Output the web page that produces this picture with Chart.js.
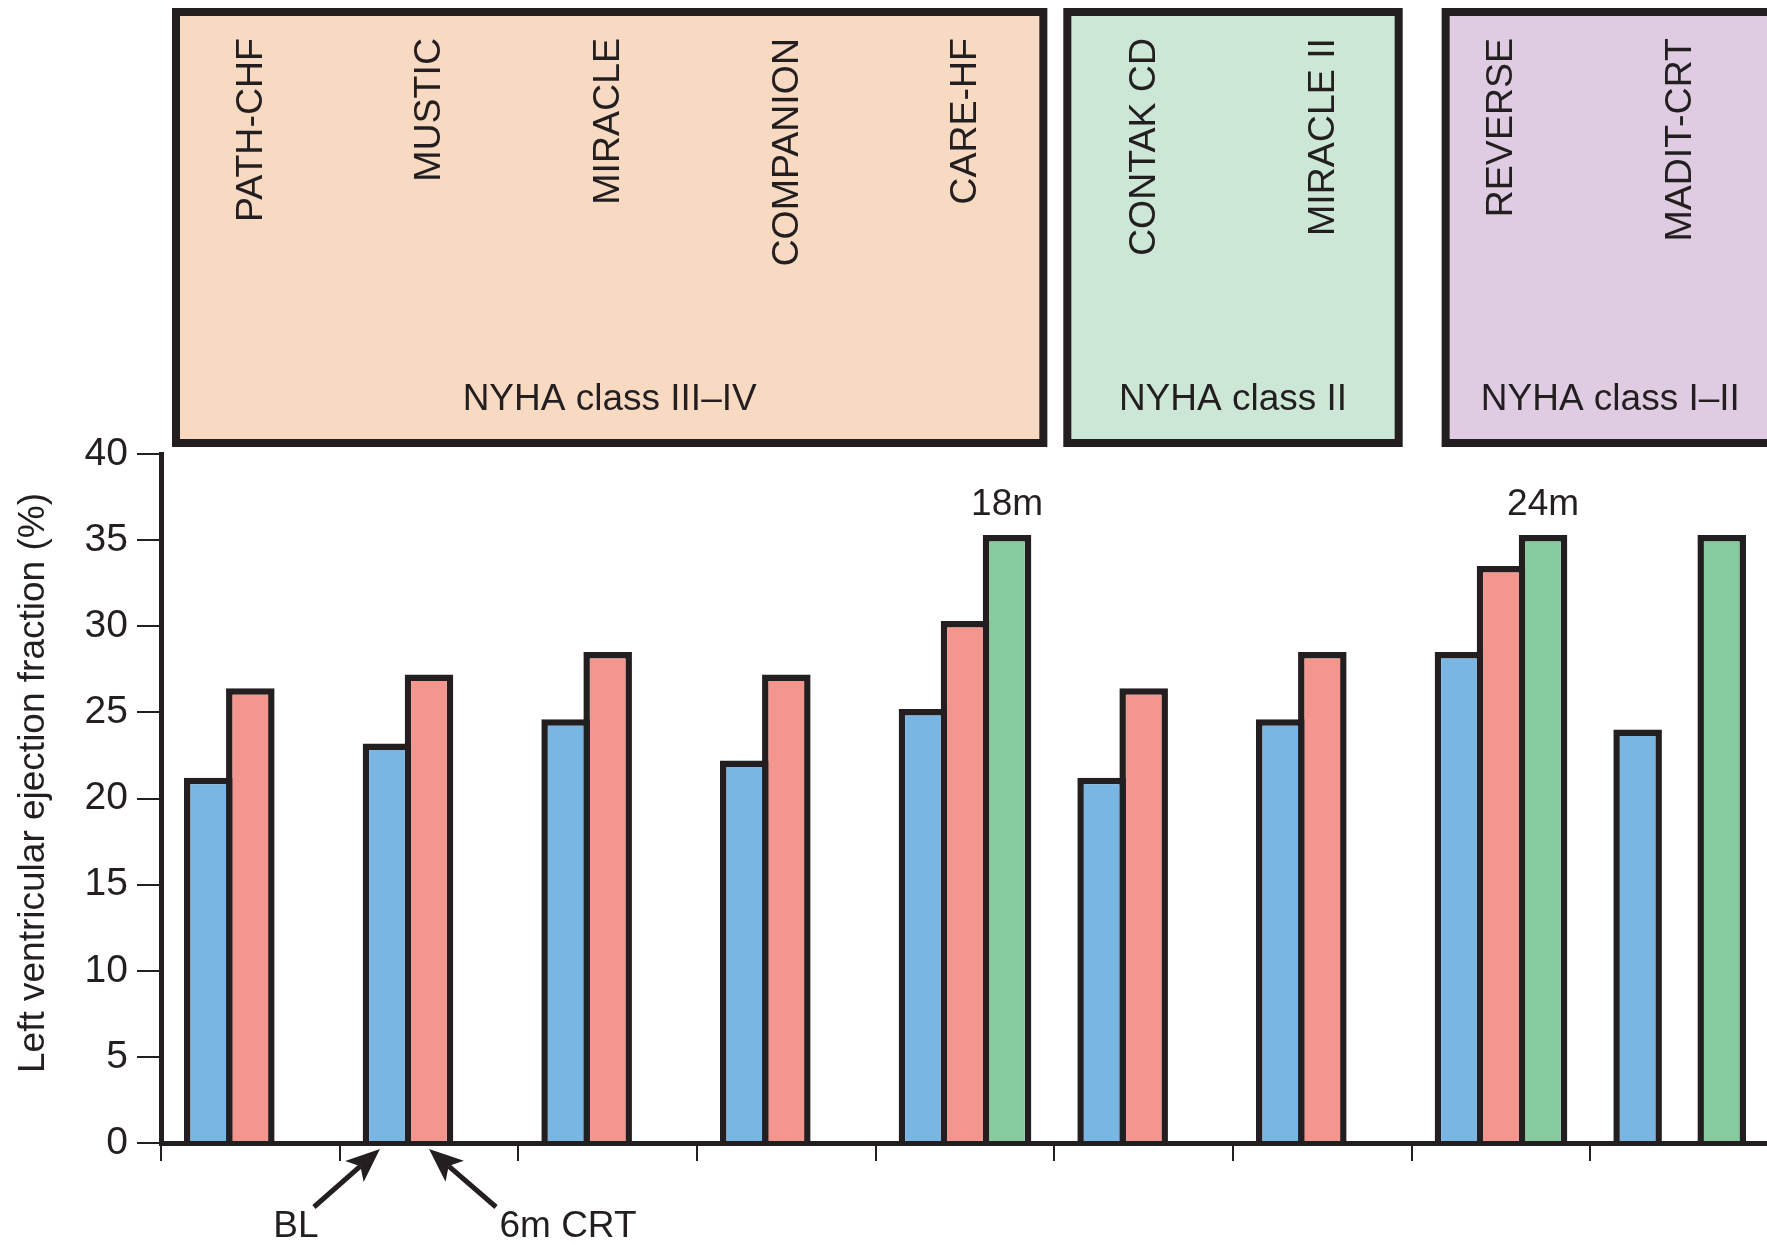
<!DOCTYPE html>
<html><head><meta charset="utf-8">
<script src="https://cdn.jsdelivr.net/npm/chart.js@4/dist/chart.umd.min.js"></script>
<style>
html,body{margin:0;padding:0;background:#fff;overflow:hidden;width:1767px;height:1245px}
#wrap{width:1800px;height:1245px;position:relative}
</style></head>
<body><div id="wrap"><canvas id="c" width="1800" height="1245"></canvas></div>
<script>
// ---- data ----
const trials = ['PATH-CHF','MUSTIC','MIRACLE','COMPANION','CARE-HF','CONTAK CD','MIRACLE II','REVERSE','MADIT-CRT'];
const baselineEF = [21.2, 23.2, 24.6, 22.2, 25.2, 21.2, 24.6, 28.5, 24];
const crt6mEF    = [26.4, 27.2, 28.5, 27.2, 30.3, 26.4, 28.5, 33.5, null];
const longTermEF = [null, null, null, null, 35.3, null, null, 35.3, 35.3];
const longTermLabels = ['', '', '', '', '18m', '', '', '24m', ''];
const yTickValues = [0, 5, 10, 15, 20, 25, 30, 35, 40];
const yTitle = 'Left ventricular ejection fraction (%)';
const nyhaGroups = ['NYHA class III\u2013IV', 'NYHA class II', 'NYHA class I\u2013II'];
const nyhaFirst = [0, 5, 7];
const nyhaLast = [4, 6, 8];
const seriesNames = ['BL', '6m CRT', 'Long-term CRT'];

// ---- style ----
const INK = '#231f20';
const FONT = '"Liberation Sans", Arial, Helvetica, sans-serif';
const groupFills = ['#f8dac3', '#cde7d7', '#dfcce2'];
const groupInsetL = [11, 9, 30];
const groupInsetR = [-7, -9, 10];
const BW = 6.5;

const overlay = {
  id: 'overlay',
  afterDraw(chart) {
    const ctx = chart.ctx;
    const xs = chart.scales.x;
    const ys = chart.scales.y;
    const cw = xs.width / trials.length;
    ctx.save();
    // group boxes
    for (let g = 0; g < nyhaGroups.length; g++) {
      const l = xs.getPixelForValue(nyhaFirst[g]) - cw / 2 + groupInsetL[g];
      const r = xs.getPixelForValue(nyhaLast[g]) + cw / 2 + groupInsetR[g];
      const t = 8, b = 447, lw = 8;
      ctx.fillStyle = groupFills[g];
      ctx.fillRect(l, t, r - l, b - t);
      ctx.lineWidth = lw;
      ctx.strokeStyle = INK;
      ctx.strokeRect(l + lw / 2, t + lw / 2, r - l - lw, b - t - lw);
      ctx.fillStyle = INK;
      ctx.font = '37px ' + FONT;
      ctx.textAlign = 'center';
      ctx.textBaseline = 'alphabetic';
      ctx.fillText(nyhaGroups[g], (l + r) / 2, 410);
    }
    // trial names (rotated)
    ctx.fillStyle = INK;
    ctx.font = '37.5px ' + FONT;
    for (let i = 0; i < trials.length; i++) {
      const cx = xs.getPixelForValue(i);
      ctx.save();
      ctx.translate(cx, 38);
      ctx.rotate(-Math.PI / 2);
      ctx.textAlign = 'right';
      ctx.textBaseline = 'middle';
      ctx.fillText(trials[i], 0, 1);
      ctx.restore();
    }
    // y axis title
    ctx.save();
    ctx.translate(34, 783);
    ctx.rotate(-Math.PI / 2);
    ctx.font = '37px ' + FONT;
    ctx.textAlign = 'center';
    ctx.textBaseline = 'middle';
    ctx.fillText(yTitle, 0, 0);
    ctx.restore();
    // follow-up duration labels
    const metaLT = chart.getDatasetMeta(2);
    ctx.textAlign = 'center';
    ctx.textBaseline = 'alphabetic';
    ctx.font = '37px ' + FONT;
    for (let i = 0; i < trials.length; i++) {
      if (!longTermLabels[i] || longTermEF[i] == null) continue;
      const el = metaLT.data[i];
      ctx.fillText(longTermLabels[i], el.x, el.y - 20);
    }
    // arrows to MUSTIC bars
    const y0 = ys.getPixelForValue(0);
    const blueEl = chart.getDatasetMeta(0).data[1];
    const redEl = chart.getDatasetMeta(1).data[1];
    const arrow = (x1, y1, x2, y2) => {
      const ang = Math.atan2(y2 - y1, x2 - x1);
      const hl = 34, hw = 14;
      const bx = x2 - hl * Math.cos(ang), by = y2 - hl * Math.sin(ang);
      ctx.strokeStyle = INK; ctx.fillStyle = INK; ctx.lineWidth = 5;
      ctx.beginPath(); ctx.moveTo(x1, y1); ctx.lineTo(bx + 8 * Math.cos(ang), by + 8 * Math.sin(ang)); ctx.stroke();
      ctx.beginPath();
      ctx.moveTo(x2, y2);
      ctx.lineTo(bx - hw * Math.sin(ang), by + hw * Math.cos(ang));
      ctx.lineTo(bx + 8 * Math.cos(ang), by + 8 * Math.sin(ang));
      ctx.lineTo(bx + hw * Math.sin(ang), by - hw * Math.cos(ang));
      ctx.closePath(); ctx.fill();
    };
    const tip1x = blueEl.x - 7, tipy = y0 + 6;
    arrow(tip1x - 66, tipy + 58, tip1x, tipy);
    const tip2x = redEl.x, tip2y = y0 + 6;
    arrow(tip2x + 67, tip2y + 58, tip2x, tip2y);
    ctx.font = '37px ' + FONT;
    ctx.textAlign = 'center';
    ctx.textBaseline = 'middle';
    ctx.fillText(seriesNames[0], tip1x - 84, y0 + 84);
    ctx.fillText(seriesNames[1], tip2x + 139, y0 + 84);
    ctx.restore();
  }
};

new Chart(document.getElementById('c'), {
  type: 'bar',
  data: {
    labels: trials,
    datasets: [
      { label: seriesNames[0], data: baselineEF, backgroundColor: '#7ab6e3' },
      { label: seriesNames[1], data: crt6mEF, backgroundColor: '#f4968e' },
      { label: seriesNames[2], data: longTermEF, backgroundColor: '#85cb9d' }
    ]
  },
  options: {
    responsive: false,
    animation: false,
    devicePixelRatio: 1,
    layout: { padding: { top: 454, right: 31, bottom: 0, left: 0 } },
    datasets: {
      bar: {
        borderColor: INK,
        borderWidth: BW,
        borderSkipped: 'start',
        categoryPercentage: 0.706,
        barPercentage: 1.155,
        skipNull: false
      }
    },
    plugins: { legend: { display: false }, tooltip: { enabled: false } },
    scales: {
      x: {
        afterFit: s => { s.height = 102; },
        grid: { offset: true, drawOnChartArea: false, drawTicks: true, tickLength: 18, color: INK, lineWidth: 2 },
        border: { display: true, color: INK, width: 5, z: 1 },
        ticks: { display: false }
      },
      y: {
        min: 0, max: 40,
        afterFit: s => { s.width = 161; },
        afterBuildTicks: s => { s.ticks = yTickValues.map(v => ({ value: v })); },
        grid: { drawOnChartArea: false, drawTicks: true, tickLength: 24, color: INK, lineWidth: 2 },
        border: { display: true, color: INK, width: 5, z: 1 },
        ticks: { color: INK, padding: 9, font: { family: FONT, size: 39 } },
        title: { display: false }
      }
    }
  },
  plugins: [overlay]
});
</script>
</body></html>
